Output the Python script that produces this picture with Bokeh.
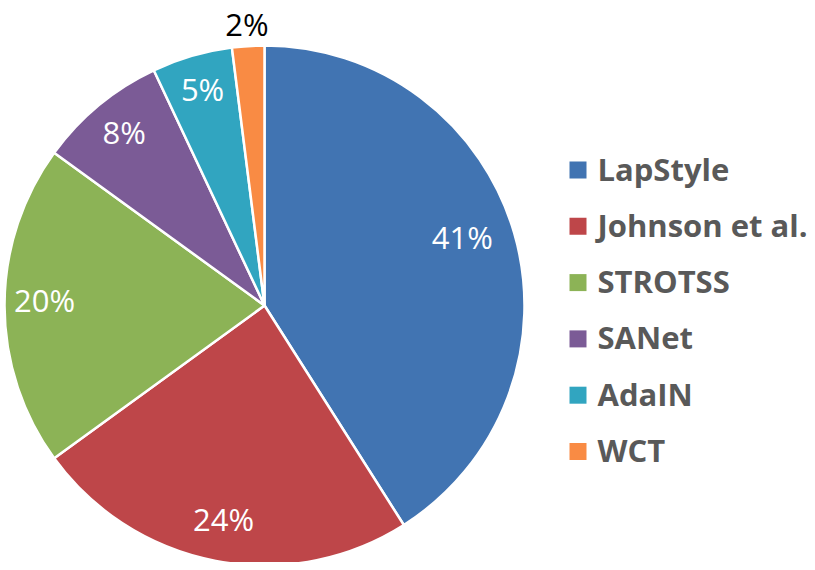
import numpy as np
from bokeh.plotting import figure
from bokeh.models import Range1d, ColumnDataSource
from bokeh.core.properties import value
from bokeh.embed import file_html
from bokeh.resources import INLINE

# ---- data ----
methods = ["LapStyle", "Johnson et al.", "STROTSS", "SANet", "AdaIN", "WCT"]
shares = [41, 24, 20, 8, 5, 2]
colors = ["#4174B2", "#BE4649", "#8CB356", "#7B5B96", "#31A5C0", "#F98B44"]

W, H = 807, 562

def px(X, Y):
    # picture pixel -> data coordinate
    return X, H - Y

p = figure(width=W, height=H, output_backend="svg", toolbar_location=None,
           x_range=Range1d(0, W), y_range=Range1d(0, H), min_border=0)
p.axis.visible = False
p.grid.visible = False
p.outline_line_color = None
p.background_fill_color = "white"

cx, cy = px(264, 305)
R = 260

vals = np.array(shares, dtype=float)
frac = vals / vals.sum()
c1 = np.cumsum(frac)
c0 = c1 - frac
start = np.pi / 2 - 2 * np.pi * c0
end = np.pi / 2 - 2 * np.pi * c1
mid = (start + end) / 2

src = ColumnDataSource(dict(start=start, end=end, color=colors, name=methods))
p.wedge(x=cx, y=cy, radius=R, start_angle="start", end_angle="end",
        direction="clock", fill_color="color", line_color="white",
        line_width=2.5, source=src)

# data labels (distance from centre and small vertical nudge: style only)
lab_r = np.array([206, 219, 220, 220, 222, 280])
lab_dy = np.array([11, 2, 6, 4, 3, 2])
lx = cx + lab_r * np.cos(mid)
ly = cy + lab_r * np.sin(mid) + lab_dy
lcol = ["black" if f < 0.03 else "white" for f in frac]
ltxt = [f"{s}%" for s in shares]
p.text(x=lx, y=ly, text=ltxt, text_color=lcol, text_align="center",
       text_baseline="middle", text_font=value("Open Sans"),
       text_font_size="31px")

# legend
n = len(methods)
pitch = 56.3
sx, sy0 = px(577.5, 169.5)
tx, ty0 = px(597, 168)
sq_y = [sy0 - i * pitch for i in range(n)]
tx_y = [ty0 - i * pitch for i in range(n)]
p.scatter(x=[sx] * n, y=sq_y, marker="square", size=17, fill_color=colors,
          line_color=None)
p.text(x=[tx] * n, y=tx_y, text=methods, text_color="#595959",
       text_align="left", text_baseline="alphabetic",
       text_font=value("Open Sans"), text_font_style="bold",
       text_font_size="31px")

open("out.html", "w").write(file_html(p, INLINE))
